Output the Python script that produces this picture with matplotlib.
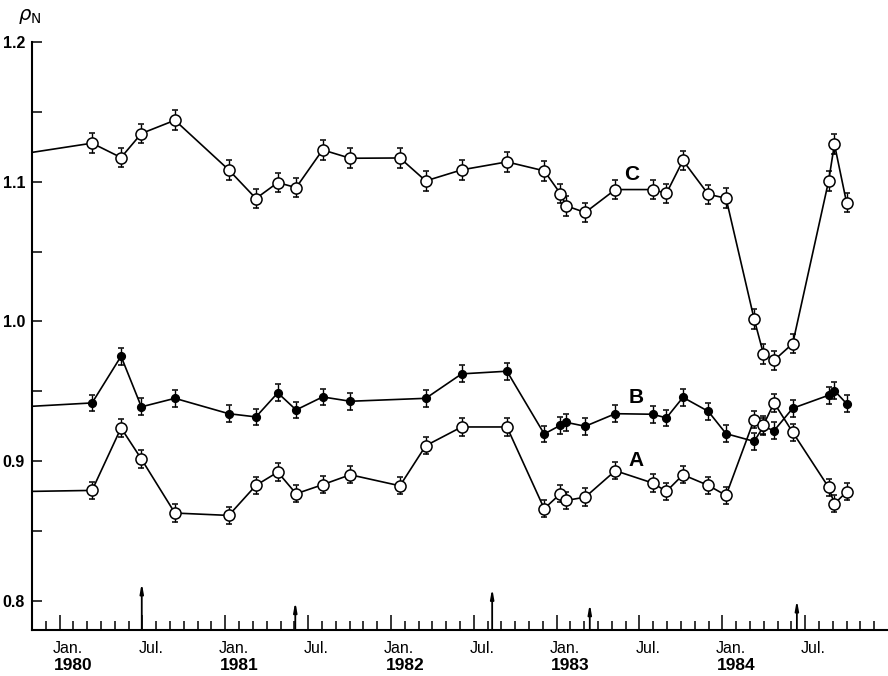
import numpy as np
import matplotlib
matplotlib.use("Agg")
import matplotlib.pyplot as plt

# Data (x in months since Jan 1980)
# ===================================
months = [2.35, 4.45, 5.92, 8.35, 12.25, 14.22, 15.8, 17.13, 19.05, 21.05,
          24.65, 26.52, 29.12, 32.4, 35.1, 36.27, 36.7, 38.07, 40.25, 42.95,
          43.95, 45.15, 46.98, 48.27, 50.3, 50.98, 51.75, 53.1, 55.7, 56.12, 57.0]

rho_c = [1.1276, 1.1173, 1.1345, 1.144, 1.1085, 1.088, 1.0994, 1.0958, 1.1228, 1.1168,
         1.117, 1.1006, 1.1085, 1.1142, 1.1078, 1.0915, 1.0827, 1.078, 1.0944, 1.0944,
         1.0917, 1.1152, 1.091, 1.0882, 1.0019, 0.9768, 0.9722, 0.9842, 1.1006, 1.1269, 1.085]

rho_a = [0.8791, 0.9238, 0.9016, 0.8629, 0.8612, 0.8827, 0.8922, 0.8767, 0.8832, 0.8903,
         0.8824, 0.9111, 0.9245, 0.9245, 0.866, 0.8767, 0.8719, 0.8743, 0.8932, 0.8844,
         0.8784, 0.8903, 0.8827, 0.8755, 0.9297, 0.926, 0.9417, 0.9207, 0.8813, 0.8695, 0.8781]

# B has no point at Jan 1982
months_b = [m for m in months if m != 24.65]
rho_b = [0.9417, 0.9751, 0.9389, 0.945, 0.934, 0.9317, 0.9489, 0.9367, 0.946, 0.9429,
         0.945, 0.9625, 0.9644, 0.9195, 0.9257, 0.9278, 0.925, 0.934, 0.9336,
         0.931, 0.9457, 0.9357, 0.9197, 0.9142, 0.9247, 0.9219, 0.9379, 0.9472, 0.9505, 0.9412]

# values where each line enters the plot at the left axis
start_c, start_b, start_a = 1.121, 0.9393, 0.8784

err_c, err_b, err_a = 0.007, 0.006, 0.0062

arrow_months = [5.95, 17.07, 31.33, 38.4, 53.4]
arrow_tops = [0.8129, 0.7995, 0.809, 0.798, 0.8007]

month_names = ["Jan.", "Jul."]
years = ["1980", "1981", "1982", "1983", "1984"]

XMIN, XMAX = -2, 60
YMIN, YMAX = 0.7792, 1.2

# Figure
# ===================================
plt.rcParams["font.family"] = ["Liberation Sans", "DejaVu Sans"]
fig = plt.figure(figsize=(8.88, 6.76), dpi=100)
ax = fig.add_axes([32 / 888, 46 / 676, 856 / 888, 588 / 676])


def draw_series(xs, ys, start, err, filled, ms):
    ax.plot([XMIN] + list(xs), [start] + list(ys), color="black", lw=1.2, zorder=2)
    ax.errorbar(xs, ys, yerr=err, fmt="o", ms=ms,
                mfc="black" if filled else "white", mec="black", mew=1.1,
                ecolor="black", elinewidth=1.0, capsize=2.5, capthick=1.0, zorder=3)


draw_series(months, rho_c, start_c, err_c, False, 8)
draw_series(months_b, rho_b, start_b, err_b, True, 5.5)
draw_series(months, rho_a, start_a, err_a, False, 8)

ax.text(41.4, 1.1054, "C", fontsize=15, fontweight="bold", ha="center", va="center")
ax.text(41.76, 0.9453, "B", fontsize=15, fontweight="bold", ha="center", va="center")
ax.text(41.76, 0.9004, "A", fontsize=15, fontweight="bold", ha="center", va="center")

for xm, top in zip(arrow_months, arrow_tops):
    ax.annotate("", xy=(xm, top), xytext=(xm, YMIN),
                arrowprops=dict(arrowstyle="-|>,head_length=0.55,head_width=0.1",
                                lw=1.3, color="black", shrinkA=0, shrinkB=0))

ax.set_xlim(XMIN, XMAX)
ax.set_ylim(YMIN, YMAX)

for side in ["top", "right"]:
    ax.spines[side].set_visible(False)
for side in ["left", "bottom"]:
    ax.spines[side].set_linewidth(1.5)

ax.set_xticks(np.arange(0, 60, 6))
ax.set_xticks(np.arange(-1, 60, 1), minor=True)
ax.set_xticklabels([])
ax.tick_params(axis="x", which="major", direction="in", length=11, width=1.1)
ax.tick_params(axis="x", which="minor", direction="in", length=6.5, width=1.1)

ax.set_yticks([0.8, 0.9, 1.0, 1.1, 1.2])
ax.set_yticks([0.85, 0.95, 1.05, 1.15], minor=True)
ax.set_yticklabels(["0.8", "0.9", "1.0", "1.1", "1.2"], fontsize=11.5, fontweight="bold")
ax.tick_params(axis="y", which="both", direction="in", length=7, width=1.1, pad=5)

trans = ax.get_xaxis_transform()
for i, m in enumerate(range(0, 60, 6)):
    ax.text(m + 0.6, -0.032, month_names[i % 2], transform=trans,
            fontsize=11.5, ha="center", va="center")
for i, yr in enumerate(years):
    ax.text(12 * i + 1.0, -0.06, yr, transform=trans,
            fontsize=12.5, fontweight="bold", ha="center", va="center")

fig.text(18 / 888, 1 - 16 / 676, r"$\rho_{\mathrm{N}}$", fontsize=14,
         ha="left", va="center")

fig.savefig("out.png", dpi=100)
